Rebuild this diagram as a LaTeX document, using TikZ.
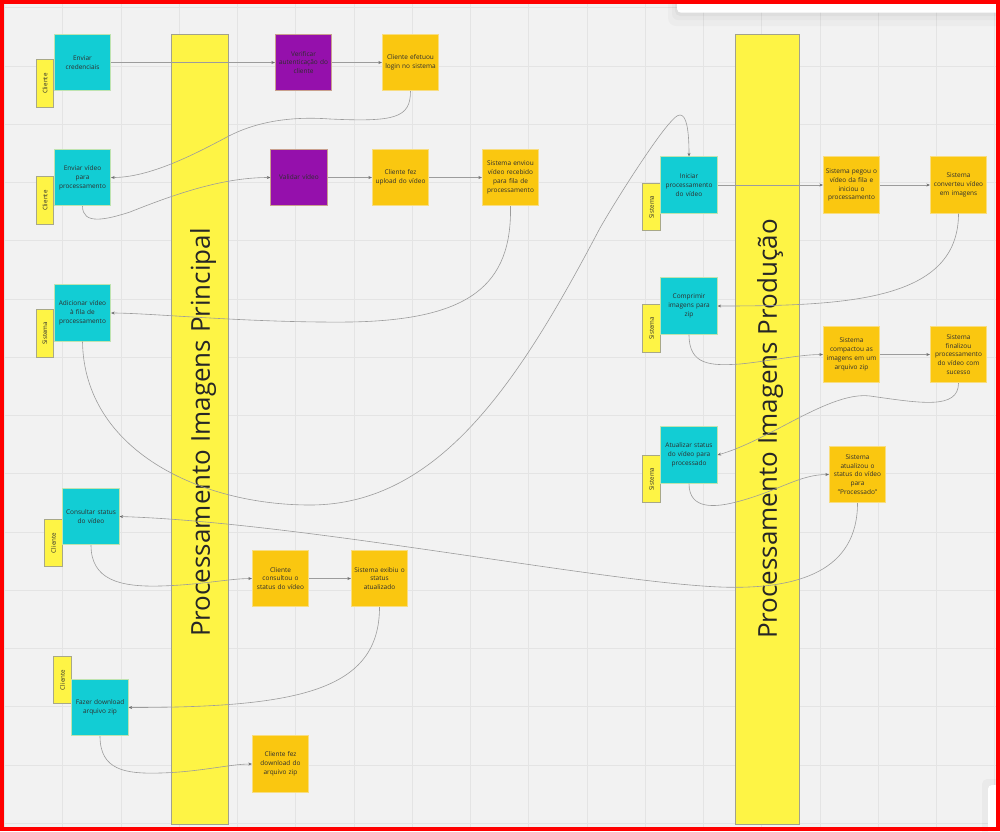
\documentclass[tikz,border=0pt]{standalone}
\usepackage{fontspec}
\setmainfont{Open Sans}
\usetikzlibrary{arrows.meta}
\definecolor{bg}{HTML}{F2F2F2}
\definecolor{gridc}{HTML}{E4E4E4}
\definecolor{cyanst}{HTML}{12CDD4}
\definecolor{purplest}{HTML}{9510AC}
\definecolor{orangest}{HTML}{FAC710}
\definecolor{yellowst}{HTML}{FEF445}
\definecolor{cyanbd}{HTML}{BFE3B0}
\definecolor{orangebd}{HTML}{F8DD80}
\definecolor{purplebd}{HTML}{C9A08E}
\definecolor{tagbd}{HTML}{A8A888}
\definecolor{colbd}{HTML}{A2A28C}
\definecolor{conncol}{HTML}{9C9C9C}
\definecolor{tipcol}{HTML}{6E6E6E}
\definecolor{txt}{HTML}{2E2E2E}
\definecolor{redframe}{HTML}{FF0000}
\begin{document}
\begin{tikzpicture}[x=1pt,y=-1pt,
  note/.style={rectangle,minimum width=56.5pt,minimum height=56.5pt,inner sep=0pt,
    text width=55pt,align=center,font=\fontsize{6.5}{8.8}\selectfont,text=txt,line width=0.6pt},
  cnote/.style={note,fill=cyanst,draw=cyanbd},
  pnote/.style={note,fill=purplest,draw=purplebd},
  onote/.style={note,fill=orangest,draw=orangebd},
  tagbox/.style={rectangle,rotate=90,minimum width=47.5pt,minimum height=17.5pt,inner sep=0pt,
    fill=yellowst,draw=tagbd,line width=0.7pt,font=\fontsize{6.2}{7}\selectfont,text=txt},
  colbox/.style={rectangle,inner sep=0pt,fill=yellowst,draw=colbd,line width=0.7pt},
  coltext/.style={rotate=90,inner sep=0pt,font=\fontsize{26}{30}\selectfont,text=black!85},
  conn/.style={draw=conncol,line width=0.6pt,-{Stealth[length=3.6pt,width=3pt,color=tipcol]}}
]
\useasboundingbox (0,0) rectangle (1000,831);
\fill[bg] (0,0) rectangle (1000,831);
% grid
\foreach \k in {0,...,17} {\draw[gridc,line width=1pt] ({4.5+58.25*\k},0) -- ({4.5+58.25*\k},831);}
\foreach \k in {0,...,14} {\draw[gridc,line width=1pt] (0,{7.75+58.25*\k}) -- (1000,{7.75+58.25*\k});}
% white bars with soft shadow
\fill[black,opacity=0.025,rounded corners=8pt] (668,-10) rectangle (1010,26);
\fill[black,opacity=0.025,rounded corners=6pt] (672,-10) rectangle (1010,20);
\fill[black,opacity=0.03,rounded corners=5pt] (675,-10) rectangle (1010,16);
\fill[white,rounded corners=4pt] (677,-10) rectangle (1010,12.7);
\fill[black,opacity=0.03,rounded corners=5pt] (982,779) rectangle (1010,840);
\fill[white,rounded corners=4pt] (988,785) rectangle (1010,840);
% columns
\node[colbox,minimum width=57pt,minimum height=790pt] (colA) at (199.5,429) {};
\node[colbox,minimum width=64pt,minimum height=790pt] (colB) at (767,429) {};
\node[coltext] (colAt) at (203,432.5) {Processamento Imagens Principal};
\node[coltext] (colBt) at (770,429) {Processamento Imagens Produção};
% tags
\node[tagbox] (t1) at (45,83.5) {Cliente};
\node[tagbox] (t2) at (45,200.5) {Cliente};
\node[tagbox] (t3) at (45,333.5) {Sistema};
\node[tagbox] (t4) at (53.5,543) {Cliente};
\node[tagbox] (t5) at (62.5,680) {Cliente};
\node[tagbox] (t6) at (651.5,207) {Sistema};
\node[tagbox] (t7) at (651.5,328.5) {Sistema};
\node[tagbox] (t8) at (651.5,479) {Sistema};
% notes
\node[cnote] (cred) at (82.5,62.5) {Enviar\\credenciais};
\node[pnote] (verif) at (303.5,62.5) {Verificar\\autenticação do\\cliente};
\node[onote] (login) at (410.5,62.5) {Cliente efetuou\\login no sistema};
\node[cnote] (envvid) at (82.5,177.5) {Enviar vídeo\\para\\processamento};
\node[pnote] (valid) at (299,177.5) {Validar vídeo};
\node[onote] (upload) at (400.5,177.5) {Cliente fez\\upload do vídeo};
\node[onote] (enviou) at (510.5,177.5) {Sistema enviou\\vídeo recebido\\para fila de\\processamento};
\node[cnote] (addfila) at (82.5,313) {Adicionar vídeo\\à fila de\\processamento};
\node[cnote] (consult) at (91,516.5) {Consultar status\\do vídeo};
\node[onote] (cconsult) at (280.5,578.5) {Cliente\\consultou o\\status do vídeo};
\node[onote] (exibiu) at (379.5,578.5) {Sistema exibiu o\\status\\atualizado};
\node[cnote] (download) at (100,707.5) {Fazer download\\arquivo zip};
\node[onote] (cdownload) at (280.5,764) {Cliente fez\\download do\\arquivo zip};
\node[cnote] (iniciar) at (689,185) {Iniciar\\processamento\\do vídeo};
\node[onote] (pegou) at (851.5,185) {Sistema pegou o\\vídeo da fila e\\iniciou o\\processamento};
\node[onote] (converteu) at (958.5,185) {Sistema\\converteu vídeo\\em imagens};
\node[cnote] (comprimir) at (689,306) {Comprimir\\imagens para\\zip};
\node[onote] (compactou) at (851.5,354.5) {Sistema\\compactou as\\imagens em um\\arquivo zip};
\node[onote] (finalizou) at (958.5,354.5) {Sistema\\finalizou\\processamento\\do vídeo com\\sucesso};
\node[cnote] (atualizar) at (689,455) {Atualizar status\\do vídeo para\\processado};
\node[onote] (atualizou) at (857.5,474.5) {Sistema\\atualizou o\\status do vídeo\\para\\"Processado"};
% connectors
\draw[conn] (cred.east) -- (verif.west);
\draw[conn] (verif.east) -- (login.west);
\draw[conn] (login.south) .. controls (410.5,118) and (395,122) .. (330,119)
  .. controls (290,116) and (255,122) .. (227,137)
  .. controls (195,154) and (150,177.5) .. (envvid.east);
\draw[conn] (envvid.south) .. controls (82.5,225) and (105,220) .. (130,212)
  .. controls (180,192) and (225,177.5) .. (valid.west);
\draw[conn] (valid.east) -- (upload.west);
\draw[conn] (upload.east) -- (enviou.west);
\draw[conn] (enviou.south) .. controls (512,285) and (470,320) .. (350,322)
  .. controls (250,323) and (150,313) .. (addfila.east);
\draw[conn] (addfila.south) .. controls (84,450) and (200,505) .. (310,505)
  .. controls (440,505) and (520,380) .. (600,228)
  .. controls (622,190) and (655,140) .. (668,125)
  .. controls (674,118) and (677,115) .. (680,115)
  .. controls (686,115) and (689,128) .. (iniciar.north);
\draw[conn] (iniciar.east) -- (pegou.west);
\draw[conn] (pegou.east) -- (converteu.west);
\draw[conn] (converteu.south) .. controls (958.5,300) and (850,306) .. (comprimir.east);
\draw[conn] (comprimir.south) .. controls (689,365) and (710,366) .. (740,364)
  .. controls (770,361) and (800,354.5) .. (compactou.west);
\draw[conn] (compactou.east) -- (finalizou.west);
\draw[conn] (finalizou.south) .. controls (958.5,410) and (920,403) .. (870,396)
  .. controls (830,391) and (770,440) .. (atualizar.east);
\draw[conn] (atualizar.south) .. controls (689,510) and (715,508) .. (740,501)
  .. controls (780,490) and (800,474.5) .. (atualizou.west);
\draw[conn] (atualizou.south) .. controls (857.5,570) and (800,590) .. (720,587)
  .. controls (600,582) and (300,522) .. (consult.east);
\draw[conn] (consult.south) .. controls (91,580) and (120,587) .. (160,586)
  .. controls (200,585) and (230,578.5) .. (cconsult.west);
\draw[conn] (cconsult.east) -- (exibiu.west);
\draw[conn] (exibiu.south) .. controls (379.5,690) and (300,707.5) .. (download.east);
\draw[conn] (download.south) .. controls (100,770) and (125,774) .. (160,773)
  .. controls (200,772) and (230,764) .. (cdownload.west);
% red frame
\draw[redframe,line width=4pt] (2,2) rectangle (998,829);
\end{tikzpicture}
\end{document}
